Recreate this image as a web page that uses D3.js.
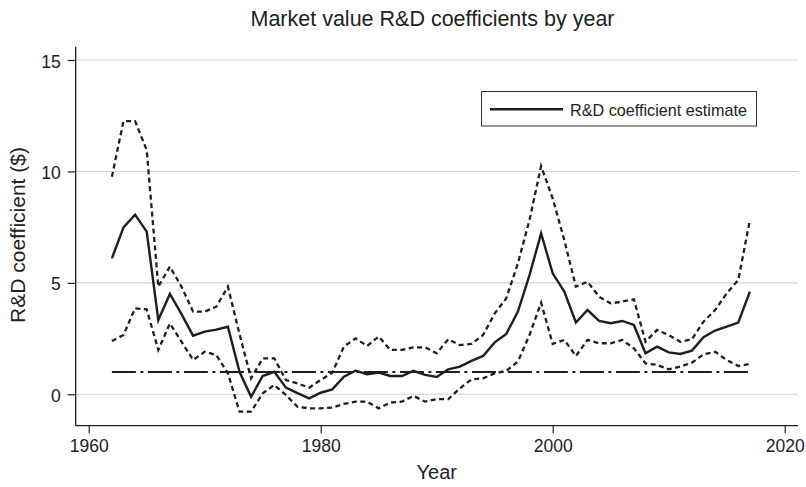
<!DOCTYPE html>
<html><head><meta charset="utf-8">
<script src="https://cdn.jsdelivr.net/npm/d3@7"></script>
<style>body{margin:0;background:#fff}svg{display:block}text{font-family:"Liberation Sans",Arial,Helvetica,sans-serif;fill:#222}</style>
</head><body><svg id="c" width="806" height="487"></svg>
<script>
const years = d3.range(1962, 2018);
const estimate = [6.10,7.49,8.06,7.30,3.33,4.50,3.60,2.63,2.81,2.90,3.03,1.01,-0.11,0.82,1.01,0.30,0.05,-0.18,
 0.07,0.22,0.79,1.06,0.90,0.97,0.82,0.82,1.05,0.87,0.78,1.12,1.24,1.50,1.72,2.33,2.71,3.71,5.35,7.22,
 5.43,4.61,3.22,3.78,3.29,3.19,3.29,3.11,1.84,2.14,1.88,1.81,1.96,2.56,2.86,3.04,3.22,4.61];
const upper = [9.76,12.26,12.26,10.96,4.83,5.73,4.83,3.71,3.71,3.93,4.83,2.70,0.72,1.61,1.61,0.64,0.49,0.30,
 0.64,0.97,2.14,2.51,2.17,2.59,1.99,1.99,2.11,2.11,1.84,2.47,2.21,2.26,2.66,3.63,4.31,5.88,7.82,10.24,
 8.79,6.92,4.83,5.05,4.38,4.08,4.16,4.26,2.36,2.89,2.66,2.36,2.47,3.26,3.78,4.53,5.13,7.82];
const lower = [2.39,2.66,3.86,3.81,1.99,3.18,2.36,1.54,1.91,1.76,0.94,-0.78,-0.78,0.04,0.42,-0.03,-0.56,-0.63,
 -0.63,-0.60,-0.43,-0.33,-0.33,-0.63,-0.37,-0.33,-0.07,-0.33,-0.22,-0.22,0.27,0.67,0.72,0.94,1.05,1.47,2.66,4.11,
 2.26,2.44,1.72,2.44,2.29,2.29,2.44,2.06,1.39,1.32,1.12,1.24,1.42,1.79,1.91,1.54,1.27,1.36];
const refValue = 1;
const xTicks = [1960, 1980, 2000, 2020];
const yTicks = [0, 5, 10, 15];
const titleText = "Market value R&D coefficients by year";
const xTitle = "Year";
const yTitle = "R&D coefficient ($)";
const legendText = "R&D coefficient estimate";

const svg = d3.select("#c");
const x = d3.scaleLinear().domain([1960, 2020]).range([88.7, 784.7]);
const y = d3.scaleLinear().domain([0, 15]).range([394.3, 60]);
const plotL = 75.7, plotR = 798, plotT = 46.7, plotB = 425.7;
const ink = "#1e1e1e";

// gridlines
svg.append("g").selectAll("line").data(yTicks).join("line")
  .attr("x1", plotL).attr("x2", plotR).attr("y1", d => y(d)).attr("y2", d => y(d))
  .attr("stroke", "#d2d2d2").attr("stroke-width", 1.1);

// axes
const yAxis = d3.axisLeft(y).tickValues(yTicks).tickSize(8).tickPadding(7);
const gy = svg.append("g").attr("transform", `translate(${plotL},0)`).call(yAxis);
gy.select(".domain").remove();
gy.selectAll("line").attr("stroke", ink).attr("stroke-width", 1.2);
gy.selectAll("text").attr("font-size", 17.5).attr("dy", "0.4em").attr("fill", ink)
  .style("font-family", '"Liberation Sans",Arial,sans-serif');
svg.append("line").attr("x1", plotL).attr("x2", plotL).attr("y1", plotT).attr("y2", plotB)
  .attr("stroke", ink).attr("stroke-width", 1.3);

const xAxis = d3.axisBottom(x).tickValues(xTicks).tickFormat(d3.format("d")).tickSize(7.5).tickPadding(6);
const gx = svg.append("g").attr("transform", `translate(0,${plotB})`).call(xAxis);
gx.select(".domain").remove();
gx.selectAll("line").attr("stroke", ink).attr("stroke-width", 1.2);
gx.selectAll("text").attr("font-size", 17.5).attr("fill", ink)
  .style("font-family", '"Liberation Sans",Arial,sans-serif');
svg.append("line").attr("x1", plotL).attr("x2", plotR).attr("y1", plotB).attr("y2", plotB)
  .attr("stroke", ink).attr("stroke-width", 1.3);

// reference line
svg.append("line").attr("x1", x(years[0])).attr("x2", x(years[years.length-1]))
  .attr("y1", y(refValue)).attr("y2", y(refValue))
  .attr("stroke", ink).attr("stroke-width", 2.2).attr("stroke-dasharray", "24,4.5,3,4.5");

const line = d3.line().x((d, i) => x(years[i])).y(d => y(d));
svg.append("path").datum(upper).attr("d", line).attr("fill", "none")
  .attr("stroke", ink).attr("stroke-width", 2.3).attr("stroke-dasharray", "5,3.5");
svg.append("path").datum(lower).attr("d", line).attr("fill", "none")
  .attr("stroke", ink).attr("stroke-width", 2.3).attr("stroke-dasharray", "5,3.5");
svg.append("path").datum(estimate).attr("d", line).attr("fill", "none")
  .attr("stroke", ink).attr("stroke-width", 2.4).attr("stroke-linejoin", "miter");

// legend
const lg = svg.append("g");
lg.append("rect").attr("x", 481.5).attr("y", 91.5).attr("width", 275).attr("height", 34.5)
  .attr("fill", "#fff").attr("stroke", "#333").attr("stroke-width", 1);
lg.append("line").attr("x1", 490).attr("x2", 563).attr("y1", 109.3).attr("y2", 109.3)
  .attr("stroke", ink).attr("stroke-width", 2.4);
lg.append("text").attr("x", 570).attr("y", 115.5).attr("font-size", 16.2).text(legendText);

// titles
svg.append("text").attr("x", 432.5).attr("y", 26).attr("text-anchor", "middle").attr("font-size", 21.5).text(titleText);
svg.append("text").attr("x", 436.8).attr("y", 479).attr("text-anchor", "middle").attr("font-size", 20).text(xTitle);
svg.append("text").attr("transform", "translate(25,235) rotate(-90)").attr("text-anchor", "middle").attr("font-size", 21).text(yTitle);
</script></body></html>
